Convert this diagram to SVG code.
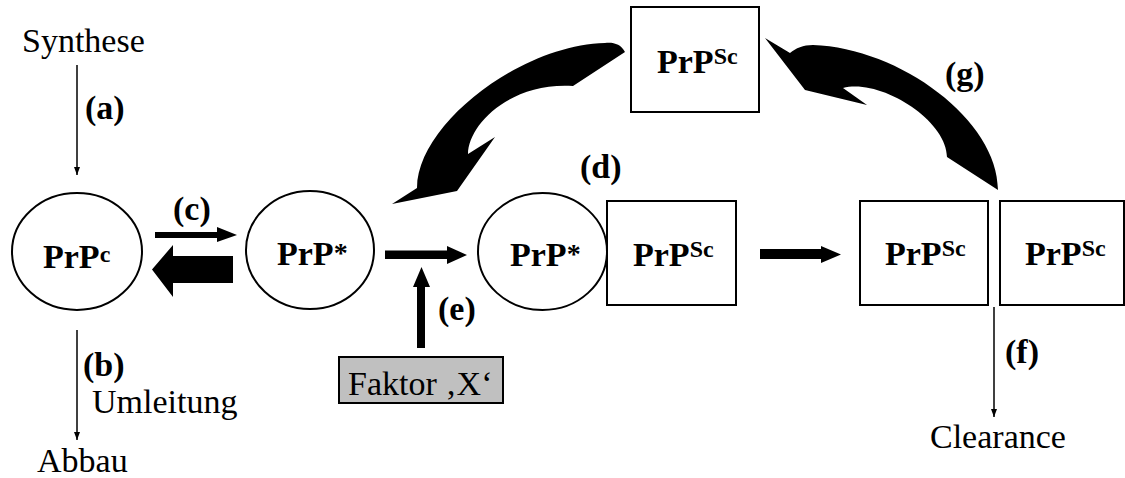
<svg xmlns="http://www.w3.org/2000/svg" width="1125" height="478" viewBox="0 0 1125 478">
<defs>
<marker id="ah" markerWidth="8" markerHeight="8" refX="8" refY="4" orient="auto" markerUnits="userSpaceOnUse">
<path d="M0,1 L8,4 L0,7 Z" fill="#000"/>
</marker>
<style>
text{font-family:'Liberation Serif', Tinos, 'Times New Roman', Times, 'DejaVu Serif', serif;fill:#000}
.t{font-size:34px}
.b{font-size:34px;font-weight:bold}
.sup{font-size:24px}
.shape{fill:#fff;stroke:#000;stroke-width:2}
.thin{stroke:#000;stroke-width:1.5;fill:none;marker-end:url(#ah)}
.fat{fill:#000;stroke:none}
</style>
</defs>
<rect width="1125" height="478" fill="#fff"/>

<g id="labels" font-family="Liberation Serif, serif">
<text class="t" x="22" y="52">Synthese</text>
<text class="t" x="92" y="413">Umleitung</text>
<text class="t" x="37" y="472">Abbau</text>
<text class="t" x="930" y="448">Clearance</text>
<text class="b" x="85" y="119">(a)</text>
<text class="b" x="83" y="376">(b)</text>
<text class="b" x="173" y="220">(c)</text>
<text class="b" x="580" y="178">(d)</text>
<text class="b" x="438" y="320">(e)</text>
<text class="b" x="1005" y="363">(f)</text>
<text class="b" x="945" y="85">(g)</text>
</g>

<g id="node-prpc">
<ellipse class="shape" cx="77" cy="251.5" rx="65" ry="58.5"/>
<text class="b" x="43" y="268">PrP<tspan class="sup" dy="-6">c</tspan></text>
</g>
<g id="node-prpstar1">
<ellipse class="shape" cx="310" cy="250" rx="64" ry="59"/>
<text class="b" x="277" y="265">PrP<tspan font-size="28" dy="-3">*</tspan></text>
</g>
<g id="node-prpstar2">
<ellipse class="shape" cx="542.5" cy="251.5" rx="64.5" ry="58.5"/>
<text class="b" x="510" y="266">PrP<tspan font-size="28" dy="-3">*</tspan></text>
</g>
<g id="node-prpsc2">
<rect class="shape" x="607" y="201" width="129" height="104"/>
<text class="b" x="633" y="266">PrP<tspan class="sup" dy="-9">Sc</tspan></text>
</g>
<g id="node-prpsc-top">
<rect class="shape" x="631" y="7" width="128" height="105"/>
<text class="b" x="657" y="73">PrP<tspan class="sup" dy="-9">Sc</tspan></text>
</g>
<g id="node-prpsc3">
<rect class="shape" x="860" y="201" width="128" height="104"/>
<text class="b" x="885" y="265">PrP<tspan class="sup" dy="-9">Sc</tspan></text>
</g>
<g id="node-prpsc4">
<rect class="shape" x="1000" y="201" width="124" height="104"/>
<text class="b" x="1025" y="265">PrP<tspan class="sup" dy="-9">Sc</tspan></text>
</g>
<g id="node-faktor">
<rect x="339" y="357" width="164" height="46" fill="#c0c0c0" stroke="#000" stroke-width="2"/>
<text class="t" x="348" y="395">Faktor ‚X‘</text>
</g>

<g id="connectors">
<line class="thin" x1="77" y1="65" x2="77" y2="175"/>
<line class="thin" x1="77" y1="330" x2="77" y2="440"/>
<line class="thin" x1="994" y1="307" x2="994" y2="417"/>
<polygon class="fat" points="155,232 217,232 217,227 237,235 217,242 217,238 155,238"/>
<polygon class="fat" points="233,256 173,256 173,245 152,269.5 173,297 173,283 233,283"/>
<polygon class="fat" points="385,250.5 447,250.5 447,246 467,255 447,264 447,259 385,259"/>
<polygon class="fat" points="417,348 417,287 413,287 421.5,267 430,287 425,287 425,348"/>
<polygon class="fat" points="760,249 821,249 821,246 841,254.5 821,263 821,259 760,259"/>
<path class="fat" d="M625,52 C621,44 613,42 605,43 C520,45 417,125 417,188 L392,204 L457,191 L495,137 L468,154 C468,125 510,82 573,86 Z"/>
<path class="fat" d="M998,190 C998,120 900,48 813,45 C803,45 796,48 790,53 L765,38 L805,90 L867,105 L843,88 C880,78 947,120 947,157 Z"/>
</g>
</svg>
